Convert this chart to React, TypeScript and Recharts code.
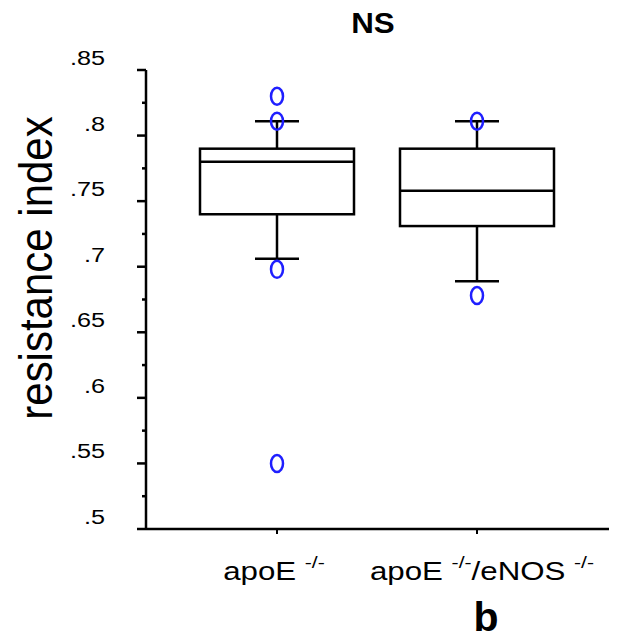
import React from 'react';
import { ComposedChart, Bar, Scatter, XAxis, YAxis } from 'recharts';

// group positions on the x axis and the summary of each box
const groups = [1, 2];
const groupLabels = [
  [{ t: 'apoE ' }, { t: '-/-', sup: true }],
  [{ t: 'apoE ' }, { t: '-/-', sup: true }, { t: '/eNOS ' }, { t: '-/-', sup: true }],
];
const q1 = [0.74, 0.731];
const medians = [0.78, 0.758];
const q3 = [0.79, 0.79];
const whiskerLow = [0.706, 0.689];
const whiskerHigh = [0.811, 0.811];

// outliers
const outlierGroup = [1, 1, 1, 1, 2, 2];
const outlierValues = [0.83, 0.811, 0.698, 0.55, 0.811, 0.678];

// y axis ticks
const majorTicks = [0.5, 0.55, 0.6, 0.65, 0.7, 0.75, 0.8, 0.85];
const majorLabels = ['.5', '.55', '.6', '.65', '.7', '.75', '.8', '.85'];
const minorTicks = [0.525, 0.575, 0.625, 0.675, 0.725, 0.775, 0.825];

const FONT = '"Liberation Sans", Arial, sans-serif';

const boxData = groups.map((x, i) => ({
  x,
  q1: q1[i],
  median: medians[i],
  q3: q3[i],
  lo: whiskerLow[i],
  hi: whiskerHigh[i],
}));

const outlierData = outlierGroup.map((x, i) => ({ x, v: outlierValues[i] }));

const allTicks = [...majorTicks, ...minorTicks].sort((a, b) => a - b);

const BoxShape = (props: any) => {
  const { x, y, width, height, payload } = props;
  const ppu = height / (payload.q3 - payload.q1);
  const cx = x + width / 2;
  const yMed = y + (payload.q3 - payload.median) * ppu;
  const yHi = y - (payload.hi - payload.q3) * ppu;
  const yLo = y + height + (payload.q1 - payload.lo) * ppu;
  const cap = 22;
  return (
    <g stroke="#000" strokeWidth={2.5} fill="none">
      <line x1={cx} x2={cx} y1={yHi} y2={y} />
      <line x1={cx - cap} x2={cx + cap} y1={yHi} y2={yHi} />
      <line x1={cx} x2={cx} y1={y + height} y2={yLo} />
      <line x1={cx - cap} x2={cx + cap} y1={yLo} y2={yLo} />
      <rect x={x} y={y} width={width} height={height} fill="#fff" />
      <line x1={x} x2={x + width} y1={yMed} y2={yMed} />
    </g>
  );
};

const OutlierShape = (props: any) => {
  const { cx, cy } = props;
  return <ellipse cx={cx} cy={cy} rx={6} ry={8.5} fill="none" stroke="#1f1fff" strokeWidth={2.5} />;
};

const YTick = (props: any) => {
  const { x, y, payload } = props;
  const idx = majorTicks.findIndex((t) => Math.abs(t - payload.value) < 1e-6);
  const major = idx >= 0;
  return (
    <g>
      <line x1={x - (major ? 9 : 4)} x2={x} y1={y} y2={y} stroke="#000" strokeWidth={2.5} />
      {major && (
        <text
          transform={`translate(${x - 41},${y - 5}) scale(1.2,1)`}
          textAnchor="end"
          fontSize={21}
          fontFamily={FONT}
          fill="#000"
        >
          {majorLabels[idx]}
        </text>
      )}
    </g>
  );
};

const XTick = (props: any) => {
  const { x, y, payload } = props;
  const idx = groups.indexOf(payload.value);
  const parts = groupLabels[idx] || [];
  const shift = idx === 0 ? -3 : 5;
  return (
    <g>
      <line x1={x} x2={x} y1={y} y2={y + 5} stroke="#000" strokeWidth={2} />
      <text
        transform={`translate(${x + shift},${y + 51}) scale(1.25,1)`}
        textAnchor="middle"
        fontSize={25}
        fontFamily={FONT}
        fill="#000"
      >
        {parts.map((p, i) => {
          const prevSup = i > 0 && parts[i - 1].sup;
          const dy = p.sup ? -12 : prevSup ? 12 : 0;
          return (
            <tspan key={i} dy={dy} fontSize={p.sup ? 17 : 25}>
              {p.t}
            </tspan>
          );
        })}
      </text>
    </g>
  );
};

export default function App() {
  return (
    <div style={{ position: 'relative', width: 601, height: 625, background: '#fff' }}>
      <ComposedChart
        width={601}
        height={625}
        data={boxData}
        margin={{ top: 62, right: 0, bottom: 0, left: 0 }}
      >
        <XAxis
          dataKey="x"
          type="number"
          domain={[0.345, 2.66]}
          ticks={groups}
          interval={0}
          height={104}
          tickSize={0}
          tickMargin={0}
          tickLine={false}
          axisLine={{ stroke: '#000', strokeWidth: 2.5 }}
          tick={<XTick />}
          allowDataOverflow
        />
        <YAxis
          type="number"
          domain={[0.5, 0.85]}
          ticks={allTicks}
          interval={0}
          width={138}
          tickSize={0}
          tickMargin={0}
          tickLine={false}
          axisLine={{ stroke: '#000', strokeWidth: 2.5 }}
          tick={<YTick />}
          allowDataOverflow
        />
        <Bar
          dataKey={(d: any) => [d.q1, d.q3]}
          barSize={154}
          shape={<BoxShape />}
          isAnimationActive={false}
        />
        <Scatter data={outlierData} dataKey="v" shape={<OutlierShape />} isAnimationActive={false} />
      </ComposedChart>
      <svg
        width={601}
        height={633}
        style={{ position: 'absolute', left: 0, top: 0, pointerEvents: 'none' }}
      >
        <text
          transform="translate(365,25) scale(1.08,1)"
          textAnchor="middle"
          fontSize={29}
          fontWeight="bold"
          fontFamily={FONT}
        >
          NS
        </text>
        <text
          transform="translate(44,260) scale(1.12,1) rotate(-90)"
          textAnchor="middle"
          fontSize={42}
          fontFamily={FONT}
        >
          resistance index
        </text>
        <text x={478} y={623} textAnchor="middle" fontSize={41} fontWeight="bold" fontFamily={FONT}>
          b
        </text>
      </svg>
    </div>
  );
}
